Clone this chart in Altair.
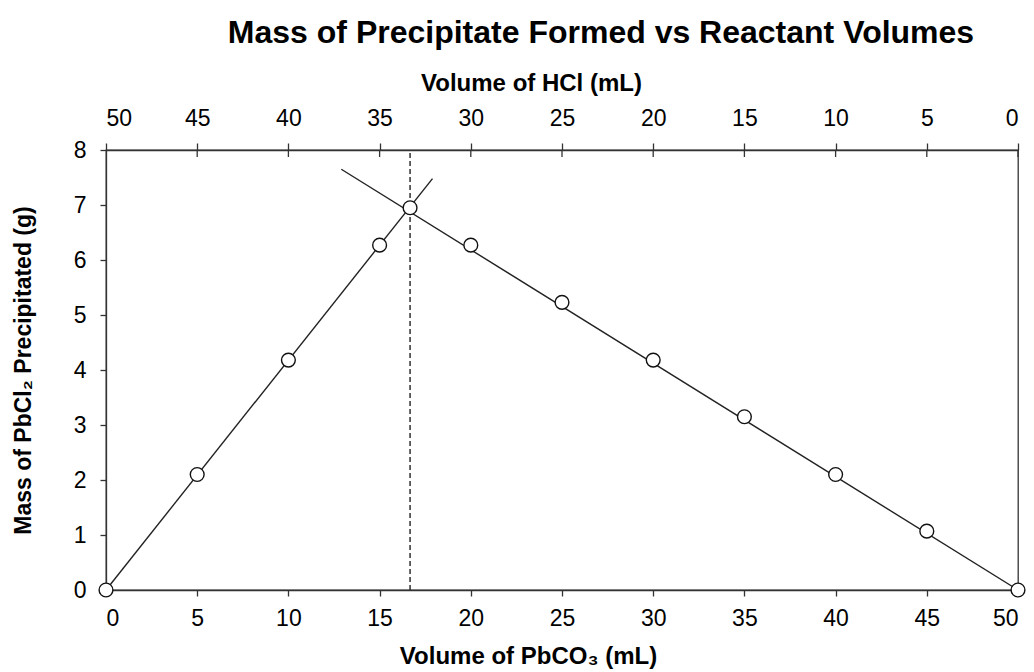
import altair as alt
import pandas as pd

# Data
pbco3_ml = [0, 5, 10, 15, 16.67, 20, 25, 30, 35, 40, 45, 50]
mass_g = [0.0, 2.1, 4.18, 6.27, 6.95, 6.27, 5.23, 4.18, 3.15, 2.1, 1.07, 0.0]

rise_x = [0, 17.9]
rise_y = [0.0, 7.48]
fall_x = [12.9, 50]
fall_y = [7.65, 0.0]
equiv_x = [16.67, 16.67]
equiv_y = [0, 8]

hcl_ticks = [50, 45, 40, 35, 30, 25, 20, 15, 10, 5, 0]
pb_ticks = [0, 5, 10, 15, 20, 25, 30, 35, 40, 45, 50]
y_ticks = [0, 1, 2, 3, 4, 5, 6, 7, 8]

FONT = "Liberation Sans"

pts = pd.DataFrame({"x": pbco3_ml, "y": mass_g})
rise = pd.DataFrame({"x": rise_x, "y": rise_y})
fall = pd.DataFrame({"x": fall_x, "y": fall_y})
equiv = pd.DataFrame({"x": equiv_x, "y": equiv_y})
top = pd.DataFrame({"hcl": [50, 0], "y": [0, 0]})
inner_ticks = pd.DataFrame({"x": [50 - h for h in hcl_ticks[1:]]})

xscale = alt.Scale(domain=[0, 50], nice=False, zero=False)
yscale = alt.Scale(domain=[0, 8], nice=False)

xaxis = alt.Axis(title="Volume of PbCO₃ (mL)", values=pb_ticks, grid=False,
                 titleFontSize=24, titleFontWeight="bold", labelFontSize=23,
                 tickSize=6, labelPadding=11, titlePadding=14, titleX=422)
yaxis = alt.Axis(title="Mass of PbCl₂ Precipitated (g)", values=y_ticks, grid=False,
                 titleFontSize=23, titleFontWeight="bold", labelFontSize=23,
                 tickSize=6, labelPadding=14, titlePadding=38)

X = alt.X("x:Q", scale=xscale, axis=xaxis)
Y = alt.Y("y:Q", scale=yscale, axis=yaxis)

lines_color = "#222222"

rise_l = alt.Chart(rise).mark_line(color=lines_color, strokeWidth=1.4).encode(x=X, y=Y)
fall_l = alt.Chart(fall).mark_line(color=lines_color, strokeWidth=1.4).encode(x="x:Q", y="y:Q")
equiv_l = alt.Chart(equiv).mark_line(color=lines_color, strokeWidth=1.4, strokeDash=[5, 3]).encode(x="x:Q", y="y:Q")
ticks_in = alt.Chart(inner_ticks).mark_rule(color="#333333", strokeWidth=1.3).encode(
    x="x:Q", y=alt.value(0), y2=alt.value(7))
points = alt.Chart(pts).mark_point(shape="circle", size=190, filled=False, fill="white",
                                   color="#111111", strokeWidth=1.4, opacity=1).encode(x="x:Q", y="y:Q")

bottom_layer = alt.layer(rise_l, fall_l, equiv_l, ticks_in, points)

top_layer = alt.Chart(top).mark_point(opacity=0).encode(
    x=alt.X("hcl:Q", scale=alt.Scale(domain=[50, 0], nice=False, zero=False),
            axis=alt.Axis(orient="top", title="Volume of HCl (mL)", values=hcl_ticks, grid=False,
                          titleFontSize=24, titleFontWeight="bold", labelFontSize=23,
                          tickSize=7, labelPadding=13, titlePadding=12, titleX=425)),
    y=alt.Y("y:Q", scale=yscale, axis=yaxis),
)

chart = alt.layer(bottom_layer, top_layer).resolve_scale(x="independent").properties(
    width=912, height=440,
    title=alt.TitleParams("Mass of Precipitate Formed vs Reactant Volumes", fontSize=32,
                          fontWeight="bold", font=FONT, anchor="middle", offset=21, dx=39,
                          color="black"),
    autosize=alt.AutoSizeParams(type="none"),
    padding={"left": 98, "top": 142, "right": 8, "bottom": 88},
).configure_axis(
    labelFont=FONT, titleFont=FONT, labelColor="black", titleColor="black",
    domainColor="#333333", tickColor="#333333", domainWidth=1.3, tickWidth=1.3,
).configure_view(stroke="#333333", strokeWidth=1.3)

chart.save("out.html", embed_options={"renderer": "svg", "actions": False})
